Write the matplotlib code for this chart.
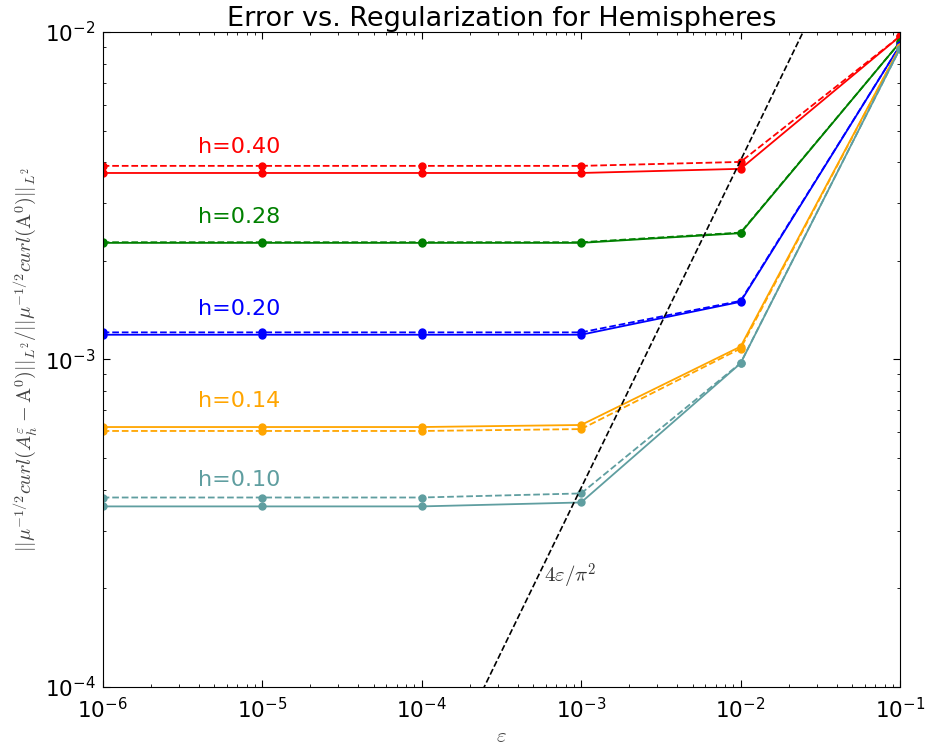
import numpy as np
import matplotlib
matplotlib.use('Agg')
import matplotlib.pyplot as plt
from matplotlib.ticker import FuncFormatter

plt.rcParams['mathtext.fontset'] = 'cm'
plt.rcParams['mathtext.default'] = 'it'
plt.rcParams['xtick.direction'] = 'in'
plt.rcParams['ytick.direction'] = 'in'
plt.rcParams['xtick.top'] = True
plt.rcParams['ytick.right'] = True

eps = [1e-6, 1e-5, 1e-4, 1e-3, 1e-2, 1e-1]
h_labels = ['h=0.40', 'h=0.28', 'h=0.20', 'h=0.14', 'h=0.10']
colors = ['red', 'green', 'blue', 'orange', 'cadetblue']

# solid curves
err_solid = [
    [3.71e-3, 3.71e-3, 3.71e-3, 3.71e-3, 3.82e-3, 9.7e-3],
    [2.27e-3, 2.27e-3, 2.27e-3, 2.27e-3, 2.43e-3, 9.3e-3],
    [1.19e-3, 1.19e-3, 1.19e-3, 1.19e-3, 1.50e-3, 9.1e-3],
    [6.22e-4, 6.22e-4, 6.22e-4, 6.31e-4, 1.095e-3, 9.0e-3],
    [3.56e-4, 3.56e-4, 3.56e-4, 3.66e-4, 9.73e-4, 8.9e-3],
]
# dashed curves
err_dashed = [
    [3.90e-3, 3.90e-3, 3.90e-3, 3.90e-3, 4.01e-3, 9.7e-3],
    [2.28e-3, 2.28e-3, 2.28e-3, 2.28e-3, 2.44e-3, 9.3e-3],
    [1.21e-3, 1.21e-3, 1.21e-3, 1.21e-3, 1.51e-3, 9.1e-3],
    [6.05e-4, 6.05e-4, 6.05e-4, 6.13e-4, 1.08e-3, 9.0e-3],
    [3.79e-4, 3.79e-4, 3.79e-4, 3.90e-4, 9.75e-4, 8.9e-3],
]

fig = plt.figure(figsize=(9.25, 7.53), dpi=100)
ax = fig.add_axes([0.111, 0.0876, 0.862, 0.87])

for lab, c, ys, yd in zip(h_labels, colors, err_solid, err_dashed):
    ax.plot(eps, yd, '--', color=c, lw=1.3, marker='o', ms=5, mec=c)
    ax.plot(eps, ys, '-', color=c, lw=1.3, marker='o', ms=5, mec=c)
    ax.text(7.2e-6, ys[0] * 1.2, lab, color=c, fontsize=16, ha='center', va='center')

# reference line 4*eps/pi^2
xr = np.logspace(-7, 0, 50)
ax.plot(xr, 4 * xr / np.pi**2, 'k--', lw=1.2)
ax.text(8.5e-4, 2.18e-4, r'$4\varepsilon/\pi^2$', fontsize=15, ha='center', va='center',
        color='#333333')

ax.set_xscale('log')
ax.set_yscale('log')
ax.set_xlim(1e-6, 1e-1)
ax.set_ylim(1e-4, 1e-2)
pow_fmt = FuncFormatter(lambda v, p: r'$\mathregular{10^{%d}}$' % round(np.log10(v)))
ax.xaxis.set_major_formatter(pow_fmt)
ax.yaxis.set_major_formatter(pow_fmt)
ax.tick_params(which='major', length=5, labelsize=15.5, pad=5)
ax.tick_params(axis='x', which='major', pad=7)
ax.tick_params(which='minor', length=2.5)
ax.set_xlabel(r'$\varepsilon$', fontsize=15, labelpad=3, color='#444444')
ax.set_ylabel(r'$||\mu^{-1/2}curl(A_h^\varepsilon - \mathrm{A}^0)||_{L^2}/||\mu^{-1/2}curl(\mathrm{A}^0)||_{L^2}$',
              fontsize=14.5, labelpad=4, color='#444444')
ax.set_title('Error vs. Regularization for Hemispheres', fontsize=19.5, pad=3)

fig.savefig('out.png', dpi=100)
